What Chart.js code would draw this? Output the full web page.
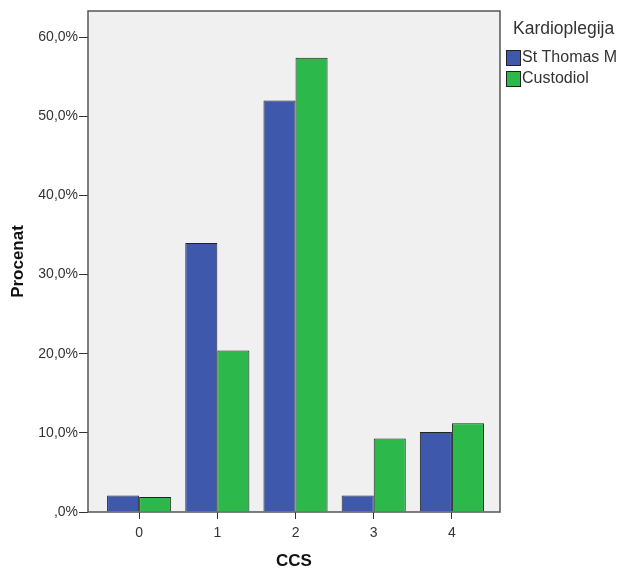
<!DOCTYPE html>
<html>
<head>
<meta charset="utf-8">
<script src="https://cdn.jsdelivr.net/npm/chart.js@4"></script>
<style>
  html, body { margin: 0; padding: 0; background: #fff; }
  #wrap { width: 622px; height: 569px; }
</style>
</head>
<body>
<div id="wrap"><canvas id="myChart" width="622" height="569"></canvas></div>
<script>
// CCS categories and percentages per cardioplegia group
const ccsLevels = [0, 1, 2, 3, 4];
const stThomas = [2.1, 34.0, 52.0, 2.1, 10.1];
const custodiol = [1.9, 20.4, 57.4, 9.3, 11.2];
const seriesNames = ["St Thomas M", "Custodiol"];
const legendTitle = "Kardioplegija";
const yTicks = [0, 10, 20, 30, 40, 50, 60];

function toPoints(values) {
    return ccsLevels.map(function(c, i) {
        return { x: c, y: values[i] };
    });
}

function fmtPercent(v) {
    if (v === 0) return ",0%";
    return v.toFixed(1).replace(".", ",") + "%";
}

const font = "'Liberation Sans', Arial, sans-serif";

// grey plot background + frame
const plotFrame = {
    id: "plotFrame",
    beforeDatasetsDraw(chart) {
        const a = chart.chartArea;
        const ctx = chart.ctx;
        ctx.save();
        ctx.fillStyle = "#f0f0f0";
        ctx.fillRect(a.left, a.top, a.right - a.left, a.bottom - a.top);
        ctx.restore();
    },
    afterDatasetsDraw(chart) {
        const a = chart.chartArea;
        const ctx = chart.ctx;
        ctx.save();
        ctx.strokeStyle = "#555";
        ctx.lineWidth = 1.5;
        ctx.strokeRect(a.left, a.top, a.right - a.left, a.bottom - a.top);
        ctx.restore();
    }
};

// legend to the right of the plot, SPSS style
const sideLegend = {
    id: "sideLegend",
    afterDraw(chart) {
        const ctx = chart.ctx;
        const x = chart.chartArea.right + 6;
        ctx.save();
        ctx.fillStyle = "#333";
        ctx.textBaseline = "middle";
        ctx.font = "17.5px " + font;
        ctx.fillText(legendTitle, x + 7, 29);
        ctx.font = "16px " + font;
        chart.data.datasets.forEach(function(ds, i) {
            const y = 57.5 + i * 21;
            ctx.fillStyle = ds.backgroundColor;
            ctx.fillRect(x + 0.5, y - 7, 14, 15);
            ctx.strokeStyle = "#222";
            ctx.lineWidth = 1;
            ctx.strokeRect(x + 0.5, y - 7, 14, 15);
            ctx.fillStyle = "#333";
            ctx.fillText(ds.label, x + 16, y + 0.5);
        });
        ctx.restore();
    }
};

const config = {
    type: "bar",
    data: {
        datasets: [{
            label: seriesNames[0],
            data: toPoints(stThomas),
            backgroundColor: "#3e58ac",
            borderColor: "#222",
            borderWidth: 1
        }, {
            label: seriesNames[1],
            data: toPoints(custodiol),
            backgroundColor: "#2db84b",
            borderColor: "#222",
            borderWidth: 1
        }]
    },
    options: {
        responsive: false,
        animation: false,
        layout: { padding: { top: 11, right: 122, left: 0, bottom: 0 } },
        datasets: { bar: { categoryPercentage: 0.82, barPercentage: 1.0 } },
        plugins: {
            legend: { display: false },
            tooltip: { enabled: false }
        },
        scales: {
            x: {
                type: "linear",
                offset: false,
                min: -0.654,
                max: 4.615,
                grid: { offset: false, drawOnChartArea: false, color: "#333", tickLength: 7, drawTicks: true },
                border: { display: false },
                afterFit(scale) { scale.height = 57; },
                afterBuildTicks(scale) {
                    scale.ticks = ccsLevels.map(function(v) { return { value: v }; });
                },
                ticks: {
                    color: "#333",
                    font: { family: font, size: 14 },
                    padding: 6,
                    callback: function(v) { return String(v); }
                },
                title: {
                    display: true,
                    text: "CCS",
                    color: "#111",
                    font: { family: font, size: 17, weight: "bold", lineHeight: 1 },
                    padding: { top: 0, bottom: -1 }
                }
            },
            y: {
                min: 0,
                max: 63.3,
                grid: { drawOnChartArea: false, color: "#333", tickLength: 9 },
                border: { display: false },
                afterFit(scale) { scale.width = 88; },
                afterBuildTicks(scale) {
                    scale.ticks = yTicks.map(function(v) { return { value: v }; });
                },
                ticks: {
                    color: "#333",
                    font: { family: font, size: 14 },
                    padding: 1,
                    callback: fmtPercent
                },
                title: {
                    display: true,
                    text: "Procenat",
                    color: "#111",
                    font: { family: font, size: 17, weight: "bold" },
                    padding: { top: 8, bottom: 0 }
                }
            }
        }
    },
    plugins: [plotFrame, sideLegend]
};

new Chart(document.getElementById("myChart"), config);
</script>
</body>
</html>
